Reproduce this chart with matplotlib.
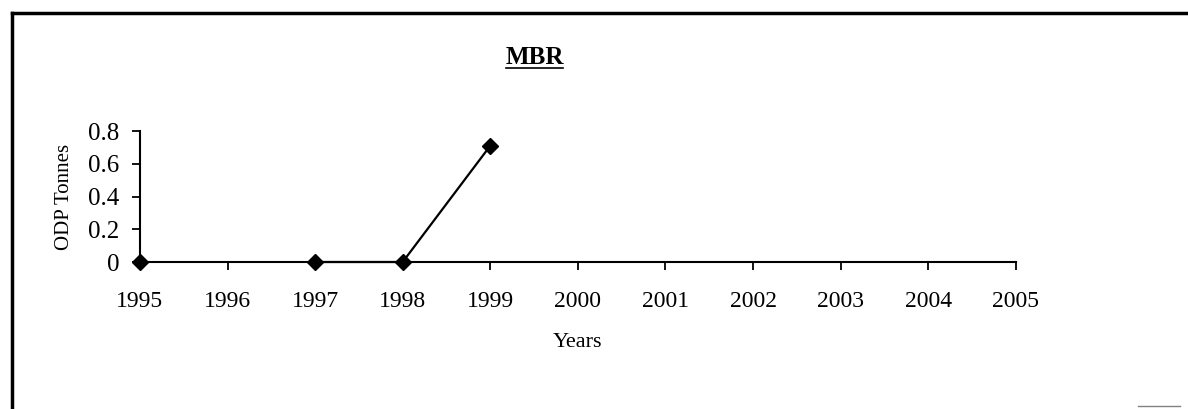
import matplotlib.pyplot as plt
import numpy as np
from matplotlib.lines import Line2D

plt.rcParams['font.family'] = ['Liberation Serif', 'DejaVu Serif']

# данные
years = [1995, 1996, 1997, 1998, 1999, 2000, 2001, 2002, 2003, 2004, 2005]
odp = [0, np.nan, 0, 0, 0.71, np.nan, np.nan, np.nan, np.nan, np.nan, np.nan]
y_ticks = [0, 0.2, 0.4, 0.6, 0.8]
y_labels = ['0', '0.2', '0.4', '0.6', '0.8']

fig = plt.figure(figsize=(11.88, 4.09), dpi=100)
ax = fig.add_axes([0.1178, 0.3594, 0.855 - 0.1178, 0.6797 - 0.3594])

ax.plot(years, odp, color='black', lw=1.6, marker='D', ms=8, clip_on=False, zorder=3)

ax.set_xlim(1995, 2005)
ax.set_ylim(0, 0.8)
ax.set_xticks(years)
ax.set_xticklabels([str(y) for y in years], fontsize=17)
ax.set_yticks(y_ticks)
ax.set_yticklabels(y_labels, fontsize=18)
ax.tick_params(axis='both', direction='out', length=6, width=1.3, colors='black')
ax.tick_params(axis='x', pad=15)
ax.tick_params(axis='y', pad=9)

for s in ['top', 'right']:
    ax.spines[s].set_visible(False)
for s in ['left', 'bottom']:
    ax.spines[s].set_linewidth(1.5)

ax.set_xlabel('Years', fontsize=16, labelpad=15)
ax.set_ylabel('ODP Tonnes', fontsize=15, labelpad=10)

# заголовок с подчеркиванием
fig.text(535 / 1188, 1 - 57 / 409, 'MBR', fontsize=18, fontweight='bold', ha='center', va='center')
fig.add_artist(Line2D([506 / 1188, 563 / 1188], [1 - 68 / 409, 1 - 68 / 409], color='black', lw=1.2))

# рамка
fig.add_artist(Line2D([12 / 1188, 12 / 1188], [0, 1 - 13 / 409], color='black', lw=2.5))
fig.add_artist(Line2D([12 / 1188, 1], [1 - 13 / 409, 1 - 13 / 409], color='black', lw=2.5))
fig.add_artist(Line2D([1138 / 1188, 1180 / 1188], [1 - 406 / 409, 1 - 406 / 409], color='gray', lw=1))

plt.savefig('out.png', dpi=100)
